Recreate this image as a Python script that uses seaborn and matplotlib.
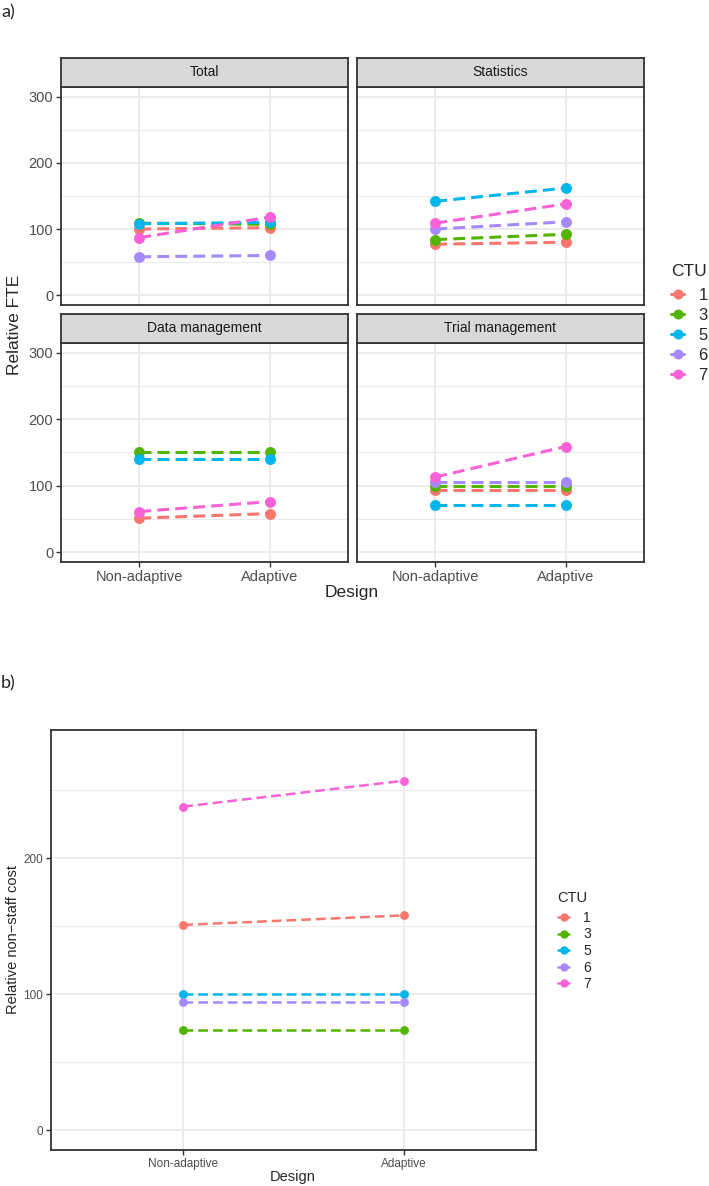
import numpy as np
import pandas as pd
import matplotlib
matplotlib.use("Agg")
import matplotlib.pyplot as plt
import seaborn as sns
from matplotlib.lines import Line2D

designs = ["Non-adaptive", "Adaptive"]
ctu_levels = ["1", "3", "5", "6", "7"]
ctu_colors = ["#F8766D", "#53B400", "#00B6EB", "#A58AFF", "#FB61D7"]

panels = ["Total", "Statistics", "Data management", "Trial management"]
# relative FTE per CTU (order of ctu_levels), None = not reported
total_non = [100, 109, 108, 58, 87]
total_adp = [102, 107, 110, 60, 118]
stats_non = [77, 84, 142, 100, 109]
stats_adp = [80, 92, 162, 111, 138]
dm_non = [51, 151, 140, None, 61]
dm_adp = [58, 151, 140, None, 76]
tm_non = [93, 99, 71, 106, 113]
tm_adp = [93, 99, 71, 106, 159]
# relative non-staff cost
nsc_non = [151, 74, 100, 94, 238]
nsc_adp = [158, 74, 100, 94, 257]


def long_table(non, adp):
    rows = []
    for d, vals in zip(designs, [non, adp]):
        for c, v in zip(ctu_levels, vals):
            if v is not None:
                rows.append({"Design": d, "CTU": c, "value": v})
    return pd.DataFrame(rows)


fte = {"Total": long_table(total_non, total_adp),
       "Statistics": long_table(stats_non, stats_adp),
       "Data management": long_table(dm_non, dm_adp),
       "Trial management": long_table(tm_non, tm_adp)}
nsc = long_table(nsc_non, nsc_adp)

sns.set_theme(style="white")
plt.rcParams["font.family"] = ["Liberation Sans", "DejaVu Sans"]

W, H = 709, 1186
fig = plt.figure(figsize=(W / 100, H / 100), dpi=100)


def box(x0, y0, x1, y1):
    return [x0 / W, 1 - y1 / H, (x1 - x0) / W, (y1 - y0) / H]


pal = dict(zip(ctu_levels, ctu_colors))


def draw(ax, df, ylim, msize, lw, tick_fs, show_x, show_y):
    sns.pointplot(data=df, x="Design", y="value", hue="CTU", order=designs,
                  hue_order=ctu_levels, palette=pal, markers="o",
                  dodge=False, errorbar=None, markersize=msize,
                  linewidth=lw, legend=False, ax=ax)
    for ln in ax.lines:
        ln.set_linestyle((0, (3.9, 2.0)))
    ax.set_xlim(-0.6, 1.6)
    ax.set_ylim(*ylim)
    ax.set_yticks([0, 100, 200, 300] if ylim[1] > 300 else [0, 100, 200])
    ax.set_yticks([50, 150, 250], minor=True)
    ax.set_axisbelow(True)
    ax.grid(which="major", color="#EBEBEB", lw=1.3)
    ax.grid(which="minor", axis="y", color="#EBEBEB", lw=0.8)
    for s in ax.spines.values():
        s.set_color("#333333")
        s.set_linewidth(1.3)
    ax.tick_params(which="major", direction="out", length=3.5, width=1,
                   color="#333333", labelcolor="#4D4D4D", labelsize=tick_fs, pad=2)
    ax.tick_params(which="minor", length=0)
    ax.tick_params(axis="x", bottom=show_x, labelbottom=show_x)
    ax.tick_params(axis="y", left=show_y, labelleft=show_y)
    ax.set_xlabel("")
    ax.set_ylabel("")


# ---- a) facets
cells = {"Total": (61, 87, 348, 305), "Statistics": (357, 87, 644, 305),
         "Data management": (61, 343, 348, 562), "Trial management": (357, 343, 644, 562)}
for i, p in enumerate(panels):
    x0, y0, x1, y1 = cells[p]
    ax = fig.add_axes(box(x0, y0, x1, y1))
    draw(ax, fte[p], (-15, 315), 6.2, 2.2, 10.5, show_x=i >= 2, show_y=i % 2 == 0)
    st = fig.add_axes(box(x0, y0 - 29, x1, y0))
    st.set_facecolor("#D9D9D9")
    st.set_xticks([])
    st.set_yticks([])
    for s in st.spines.values():
        s.set_color("#333333")
        s.set_linewidth(1.3)
    st.text(0.5, 0.5, p, ha="center", va="center", fontsize=10, color="#1A1A1A",
            transform=st.transAxes)

fig.text(15 / W, 1 - 325 / H, "Relative FTE", rotation=90, ha="center", va="center",
         fontsize=12.5)
fig.text(352 / W, 1 - 592 / H, "Design", ha="center", va="center", fontsize=12.5)

fig.text(671 / W, 1 - 271 / H, "CTU", ha="left", va="center", fontsize=12.5)
handles = [Line2D([], [], color=c, marker="o", lw=2.2, markersize=6.2) for c in ctu_colors]
fig.legend(handles, ctu_levels, loc="upper left",
           bbox_to_anchor=(671 / W, 1 - 288 / H), frameon=False, fontsize=12,
           handlelength=0.8, handletextpad=0.85, labelspacing=0.3, borderpad=0,
           borderaxespad=0)

# ---- b) non-staff cost
axb = fig.add_axes(box(51, 730, 536, 1150))
draw(axb, nsc, (-14.5, 294.3), 5, 1.8, 8.5, show_x=True, show_y=True)
fig.text(13 / W, 1 - 940 / H, "Relative non\u2212staff cost", rotation=90,
         ha="center", va="center", fontsize=10.5)
fig.text(293 / W, 1 - 1177 / H, "Design", ha="center", va="center", fontsize=10.5)

fig.text(557 / W, 1 - 898 / H, "CTU", ha="left", va="center", fontsize=10.5)
handles_b = [Line2D([], [], color=c, marker="o", lw=1.8, markersize=5) for c in ctu_colors]
fig.legend(handles_b, ctu_levels, loc="upper left",
           bbox_to_anchor=(558 / W, 1 - 911 / H), frameon=False, fontsize=10,
           handlelength=0.8, handletextpad=1.0, labelspacing=0.18, borderpad=0,
           borderaxespad=0)

fig.text(1 / W, 1 - 12 / H, "a)", ha="left", va="center", fontsize=13,
         family=["Lato", "DejaVu Sans"])
fig.text(1 / W, 1 - 683 / H, "b)", ha="left", va="center", fontsize=13,
         family=["Lato", "DejaVu Sans"])

fig.savefig("out.png", dpi=100)
